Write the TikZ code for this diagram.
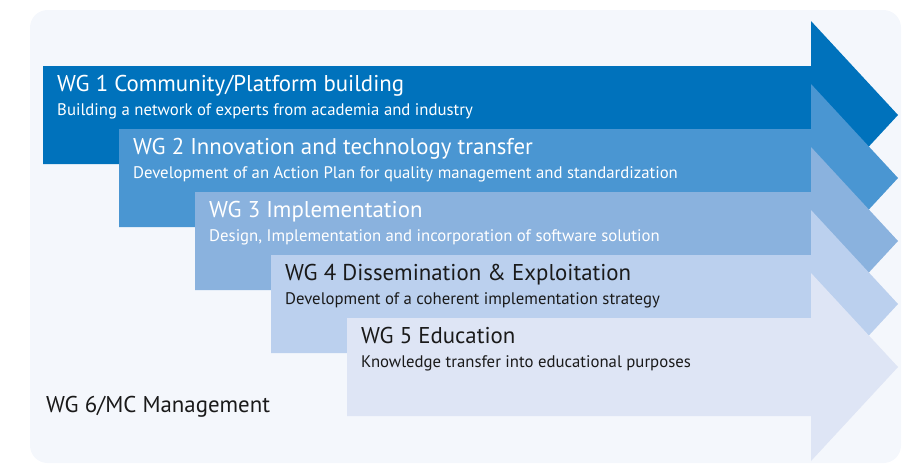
\documentclass[tikz,border=0pt]{standalone}
\usepackage{fontspec}
\setmainfont{PT Sans}
\usepackage{xcolor}
\usepackage{tikz}
\definecolor{sfondo}{HTML}{F4F7FC}
\definecolor{wgA}{HTML}{0072BC}
\definecolor{wgB}{HTML}{4A96D2}
\definecolor{wgC}{HTML}{8AB2DE}
\definecolor{wgD}{HTML}{BBD0EE}
\definecolor{wgE}{HTML}{DEE5F5}
\definecolor{scuro}{HTML}{1A1A1A}
\tikzset{
  titolo/.style={anchor=base west,inner sep=0pt,font=\fontsize{19.5}{22}\selectfont},
  sotto/.style={anchor=base west,inner sep=0pt,font=\fontsize{14.3}{16}\selectfont}
}

\begin{document}
\begin{tikzpicture}[x=0.03cm,y=-0.03cm]
  \useasboundingbox (0,0) rectangle (903,464);
  \fill[sfondo,rounded corners=15] (30,10) rectangle (901,463);
  \foreach \i/\col/\tc/\tit/\sub in {
    0/wgA/white/{WG 1 Community/Platform building}/{Building a network of experts from academia and industry},
    1/wgB/white/{WG 2 Innovation and technology transfer}/{Development of an Action Plan for quality management and standardization},
    2/wgC/white/{WG 3 Implementation}/{Design, Implementation and incorporation of software solution},
    3/wgD/scuro/{WG 4 Dissemination \& Exploitation}/{Development of a coherent implementation strategy},
    4/wgE/scuro/{WG 5 Education}/{Knowledge transfer into educational purposes}} {
    \pgfmathsetmacro{\xa}{43+76*\i}
    \pgfmathsetmacro{\ya}{66+63*\i}
    \fill[\col] (\xa,\ya) -- (811,\ya) -- (811,\ya-45) -- (898,\ya+49)
      -- (811,\ya+143) -- (811,\ya+98) -- (\xa,\ya+98) -- cycle;
    \node[titolo,text=\tc] (t\i) at (\xa+14,\ya+25) {\tit};
    \node[sotto,text=\tc] (s\i) at (\xa+14,\ya+49) {\sub};
  }
  \node[titolo,text=scuro] (wg6) at (46,412) {WG 6/MC Management};
\end{tikzpicture}
\end{document}
